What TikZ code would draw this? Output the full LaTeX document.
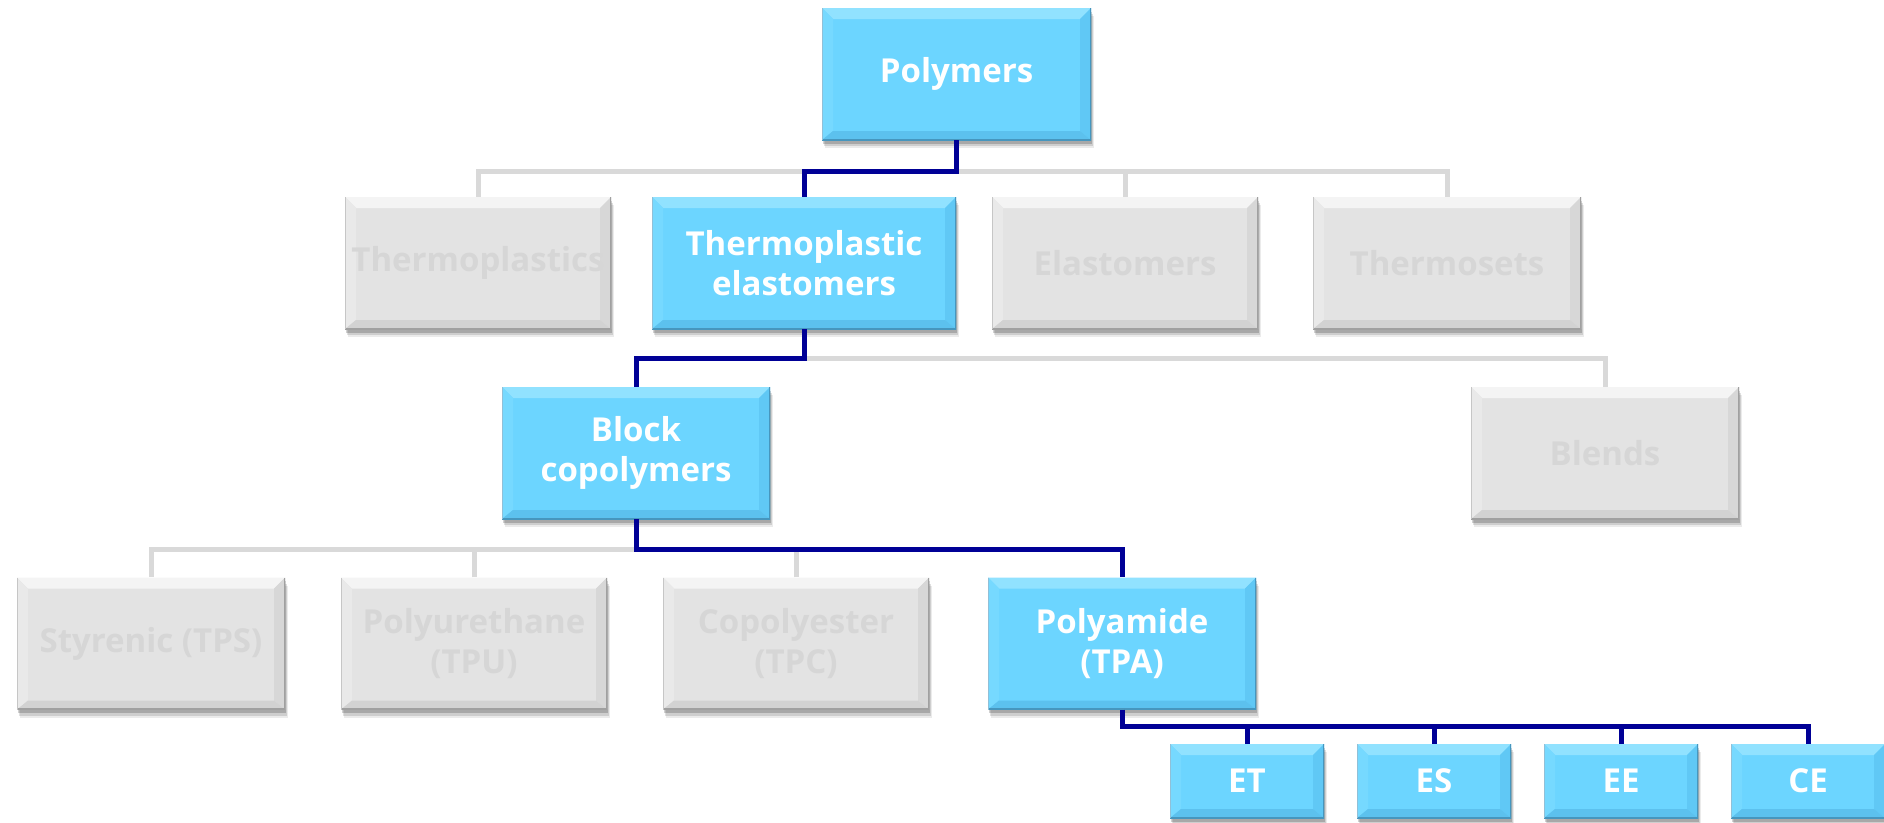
\documentclass[tikz,border=0pt]{standalone}
\usepackage{fontspec}
\setmainfont{Open Sans}
\usetikzlibrary{shadows,calc}
\definecolor{bluefill}{RGB}{108,213,255}
\definecolor{bluetop}{RGB}{145,226,255}
\definecolor{blueleft}{RGB}{118,217,255}
\definecolor{blueright}{RGB}{96,200,245}
\definecolor{bluebot}{RGB}{92,193,238}
\definecolor{blueedge}{RGB}{70,150,190}
\definecolor{grayfill}{RGB}{227,227,227}
\definecolor{graytop}{RGB}{244,244,244}
\definecolor{grayleft}{RGB}{233,233,233}
\definecolor{grayright}{RGB}{215,215,215}
\definecolor{graybot}{RGB}{210,210,210}
\definecolor{grayedge}{RGB}{160,160,160}
\definecolor{graytext}{RGB}{214,214,214}
\definecolor{navy}{RGB}{0,0,150}
\definecolor{linegray}{RGB}{217,217,217}
\tikzset{
  bev/.style n args={5}{path picture={
    \path (path picture bounding box.north west) coordinate (bnw)
          (path picture bounding box.north east) coordinate (bne)
          (path picture bounding box.south west) coordinate (bsw)
          (path picture bounding box.south east) coordinate (bse);
    \fill[#1] (bnw) -- (bne) -- ([xshift=-11pt,yshift=-11pt]bne) -- ([xshift=11pt,yshift=-11pt]bnw) -- cycle;
    \fill[#2] (bnw) -- ([xshift=11pt,yshift=-11pt]bnw) -- ([xshift=11pt,yshift=9pt]bsw) -- (bsw) -- cycle;
    \fill[#3] (bne) -- (bse) -- ([xshift=-11pt,yshift=9pt]bse) -- ([xshift=-11pt,yshift=-11pt]bne) -- cycle;
    \fill[#4] (bsw) -- (bse) -- ([xshift=-11pt,yshift=9pt]bse) -- ([xshift=11pt,yshift=9pt]bsw) -- cycle;
    \draw[#5, line width=3pt] (bsw) -- (bse) -- (bne);
    \draw[#5!60!white, line width=1.6pt] (bsw) -- (bnw);
  }},
  boxbase/.style={rectangle, inner sep=0pt, align=center,
    font=\fontsize{33}{40}\selectfont\bfseries,
    drop shadow={shadow xshift=3pt, shadow yshift=-8pt, opacity=0.08, fill=black},
    drop shadow={shadow xshift=2pt, shadow yshift=-6pt, opacity=0.12, fill=black},
    drop shadow={shadow xshift=1pt, shadow yshift=-3.5pt, opacity=0.18, fill=black}},
  bluebox/.style={boxbase, fill=bluefill, text=white, bev={bluetop}{blueleft}{blueright}{bluebot}{blueedge}},
  graybox/.style={boxbase, fill=grayfill, text=graytext, bev={graytop}{grayleft}{grayright}{graybot}{grayedge}},
  big/.style={minimum width=#1, minimum height=132pt},
  small/.style={minimum width=154pt, minimum height=74pt},
  gline/.style={draw=linegray, line width=5pt},
  bline/.style={draw=navy, line width=5pt},
}
\begin{document}
\begin{tikzpicture}[x=1pt,y=-1pt]
\useasboundingbox (0,0) rectangle (1884,822);
\fill[white] (0,0) rectangle (1884,822);

% nodes
\node[bluebox, big=269pt] (poly) at (956.5,74) {Polymers};

\node[graybox, big=266pt] (tp) at (478,263) {Thermoplastics};
\node[bluebox, big=304pt] (tpe) at (804,263) {Thermoplastic\\elastomers};
\node[graybox, big=266pt] (el) at (1125,263) {Elastomers};
\node[graybox, big=268pt] (ts) at (1447,263) {Thermosets};

\node[bluebox, big=268pt] (bc) at (636,453) {Block\\copolymers};
\node[graybox, big=268pt] (bl) at (1605,453) {Blends};

\node[graybox, big=268pt] (sty) at (151,643.5) {Styrenic (TPS)};
\node[graybox, big=266pt] (pu) at (474,643.5) {Polyurethane\\(TPU)};
\node[graybox, big=266pt] (cp) at (796,643.5) {Copolyester\\(TPC)};
\node[bluebox, big=268pt] (pa) at (1122,643.5) {Polyamide\\(TPA)};

\node[bluebox, small] (et) at (1247,781) {ET};
\node[bluebox, small] (es) at (1434,781) {ES};
\node[bluebox, small] (ee) at (1621,781) {EE};
\node[bluebox, small] (ce) at (1808,781) {CE};

% junctions
\coordinate (j1) at (956.5,171);
\coordinate (j2) at (804,358);
\coordinate (j3) at (636,549);
\coordinate (j4) at (1122,726);

% gray connectors
\draw[gline] (tp.north) |- (j1) -| (ts.north);
\draw[gline] (el.north) -- (el.north |- j1);
\draw[gline] (j2) -| (bl.north);
\draw[gline] (j3) -| (sty.north);
\draw[gline] (pu.north) -- (pu.north |- j3);
\draw[gline] (cp.north) -- (cp.north |- j3);

% blue connectors
\draw[bline] (poly.south) -- (j1) -| (tpe.north);
\draw[bline] (tpe.south) -- (j2) -| (bc.north);
\draw[bline] (bc.south) -- (j3) -| (pa.north);
\draw[bline] (pa.south) -- (j4) -| (ce.north);
\draw[bline] (et.north) -- (et.north |- j4);
\draw[bline] (es.north) -- (es.north |- j4);
\draw[bline] (ee.north) -- (ee.north |- j4);
\end{tikzpicture}
\end{document}
